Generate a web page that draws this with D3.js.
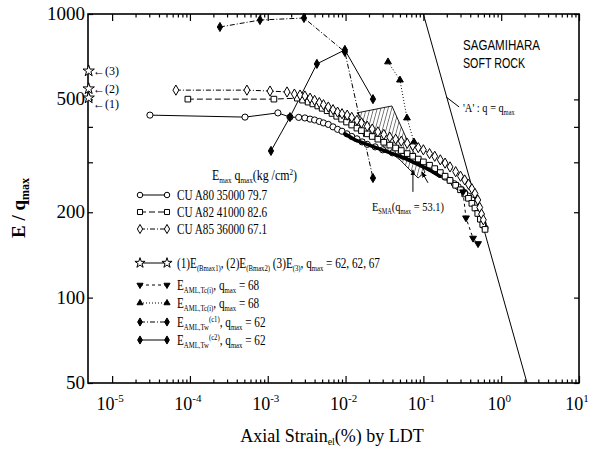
<!DOCTYPE html>
<html><head><meta charset="utf-8">
<script src="https://cdn.jsdelivr.net/npm/d3@7"></script>
<style>body{margin:0;background:#fff}svg{display:block}</style>
</head><body><svg id="chart" width="594" height="451"></svg>
<script>
// ---- data: axial strain (%) and E/q_max readings ----
const a80Strain = [3.06e-5, 5.1e-4, 1.35e-3, 1.93e-3, 2.5e-3, 3.0e-3, 3.5e-3, 4.0e-3, 4.6e-3, 5.2e-3, 6.0e-3, 6.9e-3, 7.9e-3, 9.0e-3, 0.0104, 0.012, 0.014, 0.0163, 0.019, 0.024, 0.03, 0.04, 0.055, 0.075, 0.1, 0.12, 0.14, 0.165, 0.19, 0.22, 0.25, 0.28, 0.31, 0.34, 0.38, 0.42, 0.46, 0.50, 0.53, 0.56, 0.59, 0.62];
const a80Ratio  = [440, 433, 448, 433, 432, 430, 426, 423, 418, 413, 408, 400, 392, 386, 378, 370, 363, 354, 347, 340, 332, 324, 315, 305, 294, 286, 280, 272, 266, 259, 252, 246, 240, 234, 228, 221, 213, 204, 196, 188, 181, 176];

const a82Strain = [9.4e-5, 1.2e-3, 2.4e-3, 2.8e-3, 3.3e-3, 3.8e-3, 4.4e-3, 5.0e-3, 5.8e-3, 6.7e-3, 7.7e-3, 8.9e-3, 0.0103, 0.012, 0.014, 0.016, 0.019, 0.022, 0.026, 0.031, 0.037, 0.044, 0.052, 0.062, 0.073, 0.086, 0.10, 0.12, 0.14, 0.165, 0.19, 0.22, 0.26, 0.30, 0.34, 0.38, 0.42, 0.46, 0.50, 0.54, 0.58, 0.62];
const a82Ratio  = [501, 501, 505, 497, 489, 482, 474, 465, 456, 446, 436, 426, 416, 406, 396, 388, 378, 370, 362, 353, 345, 337, 330, 322, 315, 308, 301, 293, 285, 276, 268, 259, 249, 240, 232, 224, 215, 207, 198, 189, 181, 174];

const a85Strain = [6.6e-5, 5.4e-4, 1.07e-3, 1.77e-3, 2.2e-3, 2.6e-3, 3.0e-3, 3.5e-3, 4.0e-3, 4.6e-3, 5.2e-3, 6.0e-3, 6.9e-3, 7.9e-3, 9.0e-3, 0.0105, 0.012, 0.014, 0.016, 0.019, 0.022, 0.026, 0.031, 0.037, 0.044, 0.052, 0.062, 0.073, 0.086, 0.10, 0.12, 0.14, 0.165, 0.19, 0.22, 0.26, 0.30, 0.34, 0.38, 0.42, 0.46, 0.50, 0.53, 0.56, 0.59];
const a85Ratio  = [539, 539, 535, 531, 522, 518, 514, 505, 496, 487, 479, 470, 460, 451, 445, 440, 432, 422, 413, 402, 393, 384, 376, 368, 362, 356, 350, 344, 338, 332, 322, 315, 306, 298, 289, 278, 268, 260, 251, 242, 233, 221, 208, 197, 188];

const smaStrain = [0.0098, 0.0132, 0.0277, 0.058, 0.12, 0.163];
const smaRatio  = [378, 360, 334, 310, 282, 268];

const tcDownStrain = [0.323, 0.353, 0.435, 0.504];
const tcDownRatio  = [236, 191, 162, 155];

const tcUpStrain = [0.0351, 0.05, 0.0615, 0.0757];
const tcUpRatio  = [678, 585, 430, 354];

const twC1Strain = [2.43e-4, 7.94e-4, 2.92e-3, 9.8e-3, 0.0225];
const twC1Ratio  = [900, 952, 968, 735, 264];

const twC2Strain = [1.1e-3, 1.93e-3, 4.28e-3, 9.8e-3, 0.0225];
const twC2Ratio  = [329, 433, 667, 747, 501];

const starStrain = [5e-6, 5e-6, 5e-6];
const starRatio  = [506, 545, 630];
const starNames  = ["(1)", "(2)", "(3)"];

// failure line 'A': q = q_max
const lineAStrain = [0.1, 2.15];
const lineARatio  = [1000, 50];

// hatched zone outline
const hatchStrain = [0.014, 0.0394, 0.0634, 0.105, 0.0853, 0.05, 0.032, 0.0206];
const hatchRatio  = [448, 474, 354, 277, 264, 306, 337, 396];

const xTickExp = [-5, -4, -3, -2, -1, 0, 1];
const yTicksLabelled = [1000, 500, 200, 100, 50];
const yTicksMinor = [400, 300];

// ---- font selection: first installed serif face ----
function installed(fam) {
  const c = document.createElement("canvas").getContext("2d");
  const s = "AxialStrain 0123456789 mmmWWWiii";
  c.font = "40px monospace"; const w0 = c.measureText(s).width;
  c.font = `40px '${fam}', monospace`; const w1 = c.measureText(s).width;
  return Math.abs(w0 - w1) > 0.5;
}
const serifFace = ["Liberation Serif", "DejaVu Serif", "Noto Serif", "Times New Roman", "FreeSerif", "Tinos"].find(installed);
const SERIF = serifFace ? `'${serifFace}', serif` : "serif";
const SANS = "'Liberation Sans','DejaVu Sans',sans-serif";

// ---- layout ----
const svg = d3.select("#chart");
const L = 88, R = 579, T = 14, B = 383;
const x = d3.scaleLog().domain([Math.pow(10, -5.31), 10]).range([L, R]);
const y = d3.scaleLog().domain([50, 1000]).range([B, T]);

const zip = (xs, ys) => xs.map((v, i) => [v, ys[i]]);
const line = d3.line().x(d => x(d[0])).y(d => y(d[1]));

const defs = svg.append("defs");
const pat = defs.append("pattern").attr("id", "hatch").attr("patternUnits", "userSpaceOnUse")
  .attr("width", 3.5).attr("height", 6).attr("patternTransform", "rotate(15)");
pat.append("line").attr("x1", 0).attr("y1", 0).attr("x2", 0).attr("y2", 6)
  .attr("stroke", "#000").attr("stroke-width", 1);
defs.append("marker").attr("id", "arr").attr("viewBox", "0 0 10 10").attr("refX", 9).attr("refY", 5)
  .attr("markerWidth", 6).attr("markerHeight", 6).attr("orient", "auto-start-reverse")
  .append("path").attr("d", "M0,1 L10,5 L0,9 z").attr("fill", "#000");

// ---- frame & axes ----
svg.append("rect").attr("x", L).attr("y", T).attr("width", R - L).attr("height", B - T)
  .attr("fill", "none").attr("stroke", "#000").attr("stroke-width", 1.6);

const majors = xTickExp.map(e => Math.pow(10, e));
const minors = [];
xTickExp.slice(0, -1).forEach(e => { for (let k = 2; k <= 9; k++) minors.push(k * Math.pow(10, e)); });
const minorsIn = minors.filter(v => v > x.domain()[0] && v < 10);

function xTicks(axisFn, ty, len) {
  svg.append("g").attr("transform", `translate(0,${ty})`)
    .call(axisFn(x).tickValues(majors).tickSize(len).tickFormat(""))
    .call(g => g.select(".domain").remove());
  svg.append("g").attr("transform", `translate(0,${ty})`)
    .call(axisFn(x).tickValues(minorsIn).tickSize(len / 2).tickFormat(""))
    .call(g => g.select(".domain").remove());
}
xTicks(d3.axisBottom, B, -7);
xTicks(d3.axisTop, T, -7);

function yTicks(axisFn, tx) {
  svg.append("g").attr("transform", `translate(${tx},0)`)
    .call(axisFn(y).tickValues(yTicksLabelled.concat(yTicksMinor)).tickSize(-5).tickFormat(""))
    .call(g => g.select(".domain").remove());
}
yTicks(d3.axisLeft, L);
yTicks(d3.axisRight, R);
svg.selectAll(".tick line").attr("stroke", "#000").attr("stroke-width", 1.2);

// y tick labels
svg.append("g").selectAll("text").data(yTicksLabelled).join("text")
  .attr("x", L - 3).attr("y", d => y(d) + 6).attr("text-anchor", "end")
  .style("font-family", SERIF).attr("font-size", 19).text(d => d);

// x tick labels 10^n
const xl = svg.append("g").style("font-family", SERIF);
xTickExp.forEach(e => {
  const t = xl.append("text").attr("x", x(Math.pow(10, e)) - 2).attr("y", 410)
    .attr("text-anchor", "middle").attr("font-size", 18);
  t.append("tspan").text("10");
  t.append("tspan").attr("font-size", 11).attr("dy", -8).text(e < 0 ? "-" + (-e) : String(e));
});

// axis titles
const xt = svg.append("text").attr("x", 332).attr("y", 442).attr("text-anchor", "middle")
  .style("font-family", SERIF).attr("font-size", 18);
xt.append("tspan").text("Axial Strain");
xt.append("tspan").attr("font-size", 10).attr("dy", 3).text("el");
xt.append("tspan").attr("dy", -3).text("(%) by LDT");

const yt = svg.append("text").attr("transform", "translate(25,208) rotate(-90)").attr("text-anchor", "middle")
  .style("font-family", SERIF).attr("font-size", 19).attr("font-weight", "bold");
yt.append("tspan").text("E / q");
yt.append("tspan").attr("font-size", 12).attr("dy", 4).text("max");

// ---- marks ----
const plot = svg.append("g");

// hatched zone
plot.append("path").datum(zip(hatchStrain, hatchRatio)).attr("d", d => line(d) + "Z")
  .attr("fill", "url(#hatch)").attr("stroke", "#000").attr("stroke-width", 0.9);

// failure line A
plot.append("path").datum(zip(lineAStrain, lineARatio)).attr("d", line)
  .attr("fill", "none").attr("stroke", "#000").attr("stroke-width", 1);

const series = [
  { s: a80Strain, r: a80Ratio, dash: null, sym: d3.symbolCircle, size: 30, fill: "#fff" },
  { s: a82Strain, r: a82Ratio, dash: "6,3", sym: d3.symbolSquare, size: 32, fill: "#fff" },
  { s: a85Strain, r: a85Ratio, dash: "5,2,1,2", sym: d3.symbolDiamond, size: 30, fill: "#fff" },
  { s: tcDownStrain, r: tcDownRatio, dash: "3,3", sym: d3.symbolTriangle, size: 20, fill: "#000", rot: 180 },
  { s: tcUpStrain, r: tcUpRatio, dash: "1,2", sym: d3.symbolTriangle, size: 20, fill: "#000" },
  { s: twC1Strain, r: twC1Ratio, dash: "5,2,1,2", sym: d3.symbolDiamond, size: 24, fill: "#000" },
  { s: twC2Strain, r: twC2Ratio, dash: null, sym: d3.symbolDiamond, size: 24, fill: "#000" },
  { s: starStrain, r: starRatio, dash: null, sym: d3.symbolStar, size: 40, fill: "#fff", noLine: true }
];

series.forEach(sr => {
  if (!sr.noLine) {
    plot.append("path").datum(zip(sr.s, sr.r)).attr("d", line).attr("fill", "none")
      .attr("stroke", "#000").attr("stroke-width", 1).attr("stroke-dasharray", sr.dash);
  }
});

series.forEach(sr => {
  plot.append("g").selectAll("path").data(zip(sr.s, sr.r)).join("path")
    .attr("transform", d => `translate(${x(d[0])},${y(d[1])}) rotate(${sr.rot || 0})`)
    .attr("d", d3.symbol(sr.sym, sr.size)).attr("fill", sr.fill).attr("stroke", "#000").attr("stroke-width", 1);
});

// SMA curve (heavy line)
plot.append("path").datum(zip(smaStrain, smaRatio)).attr("d", line).attr("fill", "none")
  .attr("stroke", "#000").attr("stroke-width", 3.6).attr("stroke-linecap", "round");

// star labels
svg.append("g").selectAll("text").data(zip(starRatio, starNames)).join("text")
  .attr("x", L + 5).attr("y", (d, i) => y(d[0]) + 4 + (i === 0 ? 6 : 0))
  .style("font-family", SERIF).attr("font-size", 12).text(d => "\u2190" + d[1]);

// point A arrows on the SMA curve
const arrows = [[[0.0734, 236], [0.0734, 282]], [[0.1146, 254], [0.096, 277]]];
arrows.forEach(a => plot.append("path").datum(a).attr("d", line).attr("stroke", "#000")
  .attr("stroke-width", 1).attr("marker-end", "url(#arr)"));

// ---- annotations ----
function rich(g, px, py, parts, size, sx) {
  const t = g.append("text").attr("transform", `translate(${px},${py}) scale(${sx || 0.8},1)`)
    .style("font-family", SERIF).attr("font-size", size);
  let shift = 0;
  parts.forEach(p => {
    const [txt, kind] = typeof p === "string" ? [p, null] : p;
    const target = kind === "sub" ? 3 : kind === "sup" ? -5 : 0;
    const ts = t.append("tspan").attr("dy", target - shift).text(txt);
    if (kind) ts.attr("font-size", size * 0.6);
    shift = target;
  });
  return t;
}

const ann = svg.append("g");
ann.append("text").attr("x", 463).attr("y", 50).style("font-family", SANS).attr("font-size", 14)
  .attr("textLength", 77).attr("lengthAdjust", "spacingAndGlyphs").text("SAGAMIHARA");
ann.append("text").attr("x", 463).attr("y", 68).style("font-family", SANS).attr("font-size", 14)
  .attr("textLength", 62).attr("lengthAdjust", "spacingAndGlyphs").text("SOFT ROCK");

const leadStart = [0.196, 510];
ann.append("line").attr("x1", x(leadStart[0])).attr("y1", y(leadStart[1]))
  .attr("x2", x(leadStart[0]) + 13).attr("y2", y(leadStart[1]) + 10).attr("stroke", "#000");
rich(ann, 463, 112, ["'A' : q = q", ["max", "sub"]], 13);
rich(ann, 372, 211, ["E", ["SMA", "sub"], "(q", ["max", "sub"], " = 53.1)"], 13);

// ---- legend ----
const lg = svg.append("g");
rich(lg, 212, 180, ["E", ["max", "sub"], "  q", ["max", "sub"], "(kg /cm", ["2", "sup"], ")"], 14, 0.85);

const legendRows = [
  { i: 0, y: 195, parts: ["CU A80 35000 79.7"] },
  { i: 1, y: 212, parts: ["CU A82 41000 82.6"] },
  { i: 2, y: 229, parts: ["CU A85 36000 67.1"] },
  { i: 7, y: 263, parts: ["(1)E", ["(Bmax1)", "sub"], ", (2)E", ["(Bmax2)", "sub"], " (3)E", ["(3)", "sub"], ", q", ["max", "sub"], " = 62, 62, 67"] },
  { i: 3, y: 285, parts: ["E", ["AML,Tc(i)", "sub"], ", q", ["max", "sub"], " = 68"] },
  { i: 4, y: 303, parts: ["E", ["AML,Tc(i)", "sub"], ", q", ["max", "sub"], " = 68"] },
  { i: 5, y: 322, parts: ["E", ["AML,Tw", "sub"], ["(c1)", "sup"], ", q", ["max", "sub"], " = 62"] },
  { i: 6, y: 340, parts: ["E", ["AML,Tw", "sub"], ["(c2)", "sup"], ", q", ["max", "sub"], " = 62"] }
];
legendRows.forEach(row => {
  const sr = series[row.i];
  lg.append("line").attr("x1", 140).attr("x2", 167).attr("y1", row.y).attr("y2", row.y)
    .attr("stroke", "#000").attr("stroke-dasharray", sr.dash);
  [140, 167].forEach(px => lg.append("path")
    .attr("transform", `translate(${px},${row.y}) rotate(${sr.rot || 0})`)
    .attr("d", d3.symbol(sr.sym, sr.size * 0.8)).attr("fill", sr.fill).attr("stroke", "#000"));
  rich(lg, 177, row.y + 5, row.parts, 14);
});
</script>
</body></html>
